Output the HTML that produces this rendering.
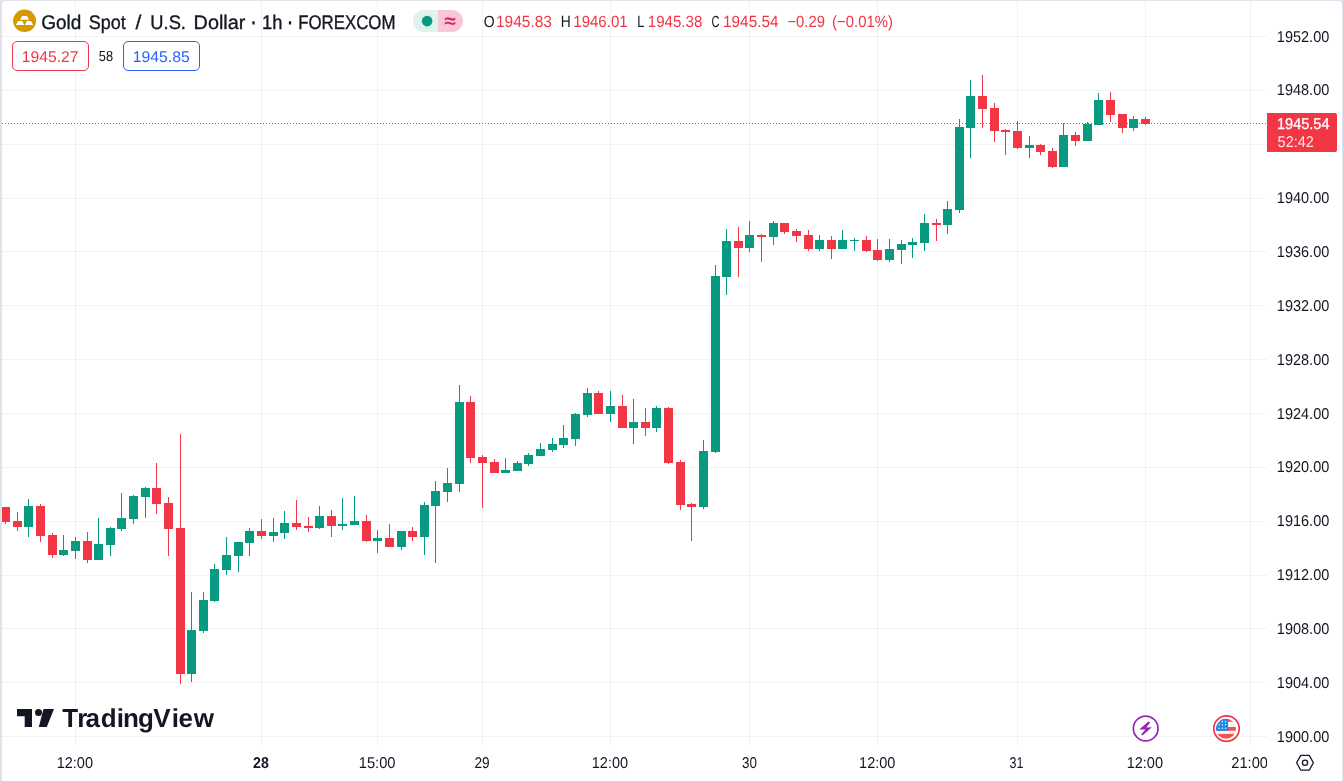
<!DOCTYPE html>
<html lang="en"><head><meta charset="utf-8"><title>Gold Spot / U.S. Dollar chart</title>
<style>
html,body{margin:0;padding:0;}
body{width:1343px;height:781px;overflow:hidden;background:#e0e3eb;position:relative;font-family:"Liberation Sans",sans-serif;}
#panel{position:absolute;left:2px;top:1px;width:1340px;height:790px;background:#fff;border-radius:4px 4px 0 0;}
svg{position:absolute;left:0;top:0;}
svg text{font-family:"Liberation Sans",sans-serif;text-rendering:geometricPrecision;}
</style></head><body>
<div id="panel"></div>
<svg width="1343" height="781" viewBox="0 0 1343 781" shape-rendering="crispEdges">
<rect x="2" y="36" width="1265" height="1" fill="rgba(42,46,57,0.06)"/>
<rect x="2" y="90" width="1265" height="1" fill="rgba(42,46,57,0.06)"/>
<rect x="2" y="144" width="1265" height="1" fill="rgba(42,46,57,0.06)"/>
<rect x="2" y="198" width="1265" height="1" fill="rgba(42,46,57,0.06)"/>
<rect x="2" y="251" width="1265" height="1" fill="rgba(42,46,57,0.06)"/>
<rect x="2" y="305" width="1265" height="1" fill="rgba(42,46,57,0.06)"/>
<rect x="2" y="359" width="1265" height="1" fill="rgba(42,46,57,0.06)"/>
<rect x="2" y="413" width="1265" height="1" fill="rgba(42,46,57,0.06)"/>
<rect x="2" y="467" width="1265" height="1" fill="rgba(42,46,57,0.06)"/>
<rect x="2" y="521" width="1265" height="1" fill="rgba(42,46,57,0.06)"/>
<rect x="2" y="575" width="1265" height="1" fill="rgba(42,46,57,0.06)"/>
<rect x="2" y="628" width="1265" height="1" fill="rgba(42,46,57,0.06)"/>
<rect x="2" y="682" width="1265" height="1" fill="rgba(42,46,57,0.06)"/>
<rect x="2" y="736" width="1265" height="1" fill="rgba(42,46,57,0.06)"/>
<rect x="75" y="1" width="1" height="744" fill="rgba(42,46,57,0.06)"/>
<rect x="261" y="1" width="1" height="744" fill="rgba(42,46,57,0.06)"/>
<rect x="377" y="1" width="1" height="744" fill="rgba(42,46,57,0.06)"/>
<rect x="482" y="1" width="1" height="744" fill="rgba(42,46,57,0.06)"/>
<rect x="610" y="1" width="1" height="744" fill="rgba(42,46,57,0.06)"/>
<rect x="749" y="1" width="1" height="744" fill="rgba(42,46,57,0.06)"/>
<rect x="877" y="1" width="1" height="744" fill="rgba(42,46,57,0.06)"/>
<rect x="1017" y="1" width="1" height="744" fill="rgba(42,46,57,0.06)"/>
<rect x="1145" y="1" width="1" height="744" fill="rgba(42,46,57,0.06)"/>
<rect x="1250" y="1" width="1" height="744" fill="rgba(42,46,57,0.06)"/>
<rect x="5" y="507" width="1" height="17" fill="#f23645"/>
<rect x="2" y="507" width="8" height="15" fill="#f23645"/>
<rect x="17" y="512" width="1" height="19" fill="#f23645"/>
<rect x="13" y="521" width="9" height="6" fill="#f23645"/>
<rect x="28" y="499" width="1" height="38" fill="#089981"/>
<rect x="24" y="506" width="9" height="21" fill="#089981"/>
<rect x="40" y="504" width="1" height="38" fill="#f23645"/>
<rect x="36" y="506" width="9" height="30" fill="#f23645"/>
<rect x="52" y="533" width="1" height="25" fill="#f23645"/>
<rect x="48" y="535" width="9" height="20" fill="#f23645"/>
<rect x="63" y="535" width="1" height="21" fill="#089981"/>
<rect x="59" y="550" width="9" height="5" fill="#089981"/>
<rect x="75" y="537" width="1" height="22" fill="#089981"/>
<rect x="71" y="541" width="9" height="10" fill="#089981"/>
<rect x="87" y="532" width="1" height="31" fill="#f23645"/>
<rect x="83" y="541" width="9" height="19" fill="#f23645"/>
<rect x="98" y="518" width="1" height="42" fill="#089981"/>
<rect x="94" y="544" width="9" height="16" fill="#089981"/>
<rect x="110" y="527" width="1" height="29" fill="#089981"/>
<rect x="106" y="528" width="9" height="17" fill="#089981"/>
<rect x="121" y="493" width="1" height="38" fill="#089981"/>
<rect x="117" y="518" width="9" height="11" fill="#089981"/>
<rect x="133" y="495" width="1" height="29" fill="#089981"/>
<rect x="129" y="496" width="9" height="23" fill="#089981"/>
<rect x="145" y="487" width="1" height="31" fill="#089981"/>
<rect x="141" y="488" width="9" height="9" fill="#089981"/>
<rect x="156" y="463" width="1" height="51" fill="#f23645"/>
<rect x="152" y="488" width="9" height="16" fill="#f23645"/>
<rect x="168" y="497" width="1" height="59" fill="#f23645"/>
<rect x="164" y="503" width="9" height="26" fill="#f23645"/>
<rect x="180" y="434" width="1" height="250" fill="#f23645"/>
<rect x="176" y="528" width="9" height="146" fill="#f23645"/>
<rect x="191" y="592" width="1" height="90" fill="#089981"/>
<rect x="187" y="630" width="9" height="44" fill="#089981"/>
<rect x="203" y="592" width="1" height="41" fill="#089981"/>
<rect x="199" y="600" width="9" height="31" fill="#089981"/>
<rect x="214" y="564" width="1" height="38" fill="#089981"/>
<rect x="210" y="569" width="9" height="32" fill="#089981"/>
<rect x="226" y="537" width="1" height="38" fill="#089981"/>
<rect x="222" y="555" width="9" height="15" fill="#089981"/>
<rect x="238" y="542" width="1" height="30" fill="#089981"/>
<rect x="234" y="542" width="9" height="14" fill="#089981"/>
<rect x="249" y="528" width="1" height="28" fill="#089981"/>
<rect x="245" y="531" width="9" height="12" fill="#089981"/>
<rect x="261" y="519" width="1" height="20" fill="#f23645"/>
<rect x="257" y="531" width="9" height="5" fill="#f23645"/>
<rect x="273" y="518" width="1" height="24" fill="#089981"/>
<rect x="269" y="532" width="9" height="4" fill="#089981"/>
<rect x="284" y="511" width="1" height="28" fill="#089981"/>
<rect x="280" y="523" width="9" height="10" fill="#089981"/>
<rect x="296" y="500" width="1" height="30" fill="#f23645"/>
<rect x="292" y="523" width="9" height="4" fill="#f23645"/>
<rect x="308" y="517" width="1" height="15" fill="#f23645"/>
<rect x="304" y="526" width="9" height="2" fill="#f23645"/>
<rect x="319" y="506" width="1" height="23" fill="#089981"/>
<rect x="315" y="516" width="9" height="12" fill="#089981"/>
<rect x="331" y="510" width="1" height="27" fill="#f23645"/>
<rect x="327" y="516" width="9" height="10" fill="#f23645"/>
<rect x="342" y="498" width="1" height="32" fill="#089981"/>
<rect x="338" y="524" width="9" height="2" fill="#089981"/>
<rect x="354" y="496" width="1" height="29" fill="#089981"/>
<rect x="350" y="521" width="9" height="4" fill="#089981"/>
<rect x="366" y="515" width="1" height="27" fill="#f23645"/>
<rect x="362" y="521" width="9" height="20" fill="#f23645"/>
<rect x="377" y="530" width="1" height="23" fill="#089981"/>
<rect x="373" y="538" width="9" height="3" fill="#089981"/>
<rect x="389" y="524" width="1" height="23" fill="#f23645"/>
<rect x="385" y="538" width="9" height="9" fill="#f23645"/>
<rect x="401" y="531" width="1" height="19" fill="#089981"/>
<rect x="397" y="531" width="9" height="16" fill="#089981"/>
<rect x="412" y="527" width="1" height="14" fill="#f23645"/>
<rect x="408" y="531" width="9" height="6" fill="#f23645"/>
<rect x="424" y="502" width="1" height="53" fill="#089981"/>
<rect x="420" y="505" width="9" height="32" fill="#089981"/>
<rect x="435" y="481" width="1" height="82" fill="#089981"/>
<rect x="431" y="491" width="9" height="15" fill="#089981"/>
<rect x="447" y="468" width="1" height="34" fill="#089981"/>
<rect x="443" y="483" width="9" height="9" fill="#089981"/>
<rect x="459" y="385" width="1" height="107" fill="#089981"/>
<rect x="455" y="402" width="9" height="82" fill="#089981"/>
<rect x="470" y="396" width="1" height="67" fill="#f23645"/>
<rect x="466" y="402" width="9" height="56" fill="#f23645"/>
<rect x="482" y="455" width="1" height="53" fill="#f23645"/>
<rect x="478" y="457" width="9" height="6" fill="#f23645"/>
<rect x="494" y="459" width="1" height="14" fill="#f23645"/>
<rect x="490" y="462" width="9" height="11" fill="#f23645"/>
<rect x="505" y="458" width="1" height="15" fill="#089981"/>
<rect x="501" y="470" width="9" height="3" fill="#089981"/>
<rect x="517" y="461" width="1" height="10" fill="#089981"/>
<rect x="513" y="463" width="9" height="8" fill="#089981"/>
<rect x="528" y="453" width="1" height="13" fill="#089981"/>
<rect x="524" y="455" width="9" height="9" fill="#089981"/>
<rect x="540" y="443" width="1" height="13" fill="#089981"/>
<rect x="536" y="449" width="9" height="7" fill="#089981"/>
<rect x="552" y="438" width="1" height="14" fill="#089981"/>
<rect x="548" y="444" width="9" height="6" fill="#089981"/>
<rect x="563" y="425" width="1" height="23" fill="#089981"/>
<rect x="559" y="438" width="9" height="7" fill="#089981"/>
<rect x="575" y="413" width="1" height="33" fill="#089981"/>
<rect x="571" y="414" width="9" height="25" fill="#089981"/>
<rect x="587" y="388" width="1" height="29" fill="#089981"/>
<rect x="583" y="393" width="9" height="22" fill="#089981"/>
<rect x="598" y="391" width="1" height="23" fill="#f23645"/>
<rect x="594" y="393" width="9" height="21" fill="#f23645"/>
<rect x="610" y="391" width="1" height="31" fill="#089981"/>
<rect x="606" y="406" width="9" height="8" fill="#089981"/>
<rect x="622" y="395" width="1" height="33" fill="#f23645"/>
<rect x="618" y="406" width="9" height="22" fill="#f23645"/>
<rect x="633" y="399" width="1" height="45" fill="#089981"/>
<rect x="629" y="422" width="9" height="6" fill="#089981"/>
<rect x="645" y="408" width="1" height="28" fill="#f23645"/>
<rect x="641" y="422" width="9" height="6" fill="#f23645"/>
<rect x="656" y="406" width="1" height="26" fill="#089981"/>
<rect x="652" y="408" width="9" height="20" fill="#089981"/>
<rect x="668" y="407" width="1" height="57" fill="#f23645"/>
<rect x="664" y="408" width="9" height="55" fill="#f23645"/>
<rect x="680" y="460" width="1" height="50" fill="#f23645"/>
<rect x="676" y="462" width="9" height="43" fill="#f23645"/>
<rect x="691" y="503" width="1" height="38" fill="#f23645"/>
<rect x="687" y="504" width="9" height="3" fill="#f23645"/>
<rect x="703" y="440" width="1" height="69" fill="#089981"/>
<rect x="699" y="451" width="9" height="56" fill="#089981"/>
<rect x="715" y="265" width="1" height="188" fill="#089981"/>
<rect x="711" y="276" width="9" height="176" fill="#089981"/>
<rect x="726" y="229" width="1" height="66" fill="#089981"/>
<rect x="722" y="241" width="9" height="36" fill="#089981"/>
<rect x="738" y="227" width="1" height="50" fill="#f23645"/>
<rect x="734" y="241" width="9" height="7" fill="#f23645"/>
<rect x="749" y="221" width="1" height="31" fill="#089981"/>
<rect x="745" y="235" width="9" height="13" fill="#089981"/>
<rect x="761" y="234" width="1" height="28" fill="#f23645"/>
<rect x="757" y="235" width="9" height="2" fill="#f23645"/>
<rect x="773" y="221" width="1" height="24" fill="#089981"/>
<rect x="769" y="223" width="9" height="14" fill="#089981"/>
<rect x="784" y="223" width="1" height="11" fill="#f23645"/>
<rect x="780" y="223" width="9" height="9" fill="#f23645"/>
<rect x="796" y="229" width="1" height="13" fill="#f23645"/>
<rect x="792" y="231" width="9" height="5" fill="#f23645"/>
<rect x="808" y="230" width="1" height="21" fill="#f23645"/>
<rect x="804" y="235" width="9" height="14" fill="#f23645"/>
<rect x="819" y="235" width="1" height="16" fill="#089981"/>
<rect x="815" y="240" width="9" height="9" fill="#089981"/>
<rect x="831" y="236" width="1" height="23" fill="#f23645"/>
<rect x="827" y="240" width="9" height="9" fill="#f23645"/>
<rect x="842" y="230" width="1" height="19" fill="#089981"/>
<rect x="838" y="240" width="9" height="9" fill="#089981"/>
<rect x="854" y="238" width="1" height="13" fill="#089981"/>
<rect x="850" y="240" width="9" height="1" fill="#089981"/>
<rect x="866" y="236" width="1" height="16" fill="#f23645"/>
<rect x="862" y="240" width="9" height="11" fill="#f23645"/>
<rect x="877" y="239" width="1" height="22" fill="#f23645"/>
<rect x="873" y="250" width="9" height="10" fill="#f23645"/>
<rect x="889" y="239" width="1" height="23" fill="#089981"/>
<rect x="885" y="249" width="9" height="11" fill="#089981"/>
<rect x="901" y="240" width="1" height="24" fill="#089981"/>
<rect x="897" y="244" width="9" height="6" fill="#089981"/>
<rect x="912" y="238" width="1" height="20" fill="#089981"/>
<rect x="908" y="242" width="9" height="3" fill="#089981"/>
<rect x="924" y="214" width="1" height="37" fill="#089981"/>
<rect x="920" y="223" width="9" height="20" fill="#089981"/>
<rect x="936" y="219" width="1" height="22" fill="#f23645"/>
<rect x="932" y="223" width="9" height="2" fill="#f23645"/>
<rect x="947" y="201" width="1" height="33" fill="#089981"/>
<rect x="943" y="209" width="9" height="16" fill="#089981"/>
<rect x="959" y="119" width="1" height="94" fill="#089981"/>
<rect x="955" y="127" width="9" height="83" fill="#089981"/>
<rect x="970" y="80" width="1" height="78" fill="#089981"/>
<rect x="966" y="96" width="9" height="32" fill="#089981"/>
<rect x="982" y="75" width="1" height="53" fill="#f23645"/>
<rect x="978" y="96" width="9" height="13" fill="#f23645"/>
<rect x="994" y="103" width="1" height="39" fill="#f23645"/>
<rect x="990" y="108" width="9" height="23" fill="#f23645"/>
<rect x="1005" y="129" width="1" height="26" fill="#f23645"/>
<rect x="1001" y="130" width="9" height="2" fill="#f23645"/>
<rect x="1017" y="121" width="1" height="28" fill="#f23645"/>
<rect x="1013" y="131" width="9" height="17" fill="#f23645"/>
<rect x="1029" y="136" width="1" height="22" fill="#089981"/>
<rect x="1025" y="145" width="9" height="3" fill="#089981"/>
<rect x="1040" y="144" width="1" height="11" fill="#f23645"/>
<rect x="1036" y="145" width="9" height="7" fill="#f23645"/>
<rect x="1052" y="148" width="1" height="20" fill="#f23645"/>
<rect x="1048" y="151" width="9" height="16" fill="#f23645"/>
<rect x="1063" y="123" width="1" height="44" fill="#089981"/>
<rect x="1059" y="135" width="9" height="32" fill="#089981"/>
<rect x="1075" y="132" width="1" height="14" fill="#f23645"/>
<rect x="1071" y="135" width="9" height="6" fill="#f23645"/>
<rect x="1087" y="122" width="1" height="19" fill="#089981"/>
<rect x="1083" y="124" width="9" height="17" fill="#089981"/>
<rect x="1098" y="93" width="1" height="32" fill="#089981"/>
<rect x="1094" y="100" width="9" height="25" fill="#089981"/>
<rect x="1110" y="92" width="1" height="30" fill="#f23645"/>
<rect x="1106" y="100" width="9" height="15" fill="#f23645"/>
<rect x="1122" y="114" width="1" height="19" fill="#f23645"/>
<rect x="1118" y="114" width="9" height="14" fill="#f23645"/>
<rect x="1133" y="116" width="1" height="15" fill="#089981"/>
<rect x="1129" y="119" width="9" height="9" fill="#089981"/>
<rect x="1145" y="117" width="1" height="8" fill="#f23645"/>
<rect x="1141" y="119" width="9" height="5" fill="#f23645"/>
<line x1="2" y1="123.5" x2="1267" y2="123.5" stroke="#f23645" stroke-width="1" stroke-dasharray="1 2"/>
</svg>
<svg width="1343" height="781" viewBox="0 0 1343 781">
<defs><clipPath id="fclip"><circle cx="1226" cy="728.7" r="10"/></clipPath><clipPath id="tclip"><rect x="0" y="745" width="1267" height="36"/></clipPath></defs>
<!-- gold icon -->
<ellipse cx="24.55" cy="20.85" rx="11.5" ry="11.25" fill="#d69a00"/>
<path d="M22.3 15.9H26.9L29.1 19.7H20.0Z M18.2 21.1H22.3L24.2 24.9H15.8Z M26.9 21.1H30.9L33.3 24.9H24.9Z" fill="#fff"/>
<!-- pill -->
<path d="M424 10h14v22h-14a11 11 0 0 1 0-22z" fill="#dff2ee"/>
<path d="M438 10h14a11 11 0 0 1 0 22h-14z" fill="#f9c7d8"/>
<circle cx="427.1" cy="21.1" r="5.3" fill="#089981"/>
<!-- bid ask boxes -->
<rect x="12.5" y="41.5" width="76" height="29" rx="4.5" fill="#fff" stroke="#f23645"/>
<rect x="123.5" y="41.5" width="76" height="29" rx="4.5" fill="#fff" stroke="#2962ff"/>
<!-- last price box -->
<path d="M1267 113h68a2 2 0 0 1 2 2v35a2 2 0 0 1-2 2h-68z" fill="#f23645"/>
<!-- TV logo mark -->
<path d="M17 709h15v18h-7.3v-10.8h-7.7z M43.5 709h10.5l-7.2 18h-8z" fill="#131722"/>
<circle cx="38.5" cy="712.4" r="3.5" fill="#131722"/>
<!-- lightning icon -->
<rect x="1133" y="713.4" width="25.5" height="29.9" fill="#fff"/>
<circle cx="1145.7" cy="728.5" r="12.35" fill="#fff" stroke="#9526b1" stroke-width="1.7"/>
<path d="M1148.5 721.5L1150.1 722.4L1146.3 727.5L1151.9 727.2L1142.4 735.6L1141.1 734.5L1145.4 729.4L1139.2 729.6Z" fill="#9526b1"/>
<!-- flag icon -->
<rect x="1213.6" y="714" width="25.8" height="29.3" fill="#fff"/>
<circle cx="1226.5" cy="728.6" r="12.75" fill="#fff" stroke="#f23645" stroke-width="1.7"/>
<g clip-path="url(#fclip)">
<rect x="1216" y="718.7" width="20" height="20" fill="#f5f7fa"/>
<rect x="1216" y="718.7" width="20" height="3.1" fill="#ef5350"/>
<rect x="1216" y="727" width="20" height="3.8" fill="#ef5350"/>
<rect x="1216" y="733.9" width="20" height="5" fill="#ef5350"/>
<rect x="1216" y="718.7" width="12.1" height="12.1" fill="#1e88e5"/>
<g fill="#e3f0fc">
<circle cx="1219.1" cy="721.6" r="0.8"/><circle cx="1222.3" cy="721.6" r="0.8"/><circle cx="1225.6" cy="721.6" r="0.8"/>
<circle cx="1219.1" cy="724.8" r="0.8"/><circle cx="1222.3" cy="724.8" r="0.8"/><circle cx="1225.6" cy="724.8" r="0.8"/>
<circle cx="1219.1" cy="728.2" r="0.8"/><circle cx="1222.3" cy="728.2" r="0.8"/><circle cx="1225.6" cy="728.2" r="0.8"/>
</g>
</g>
<!-- settings hex -->
<path d="M1296.6 762.8l4.2-7.4h8.4l4.2 7.4-4.2 7.4h-8.4z" fill="none" stroke="#131722" stroke-width="1.3" stroke-linejoin="round"/>
<circle cx="1305" cy="762.8" r="2.6" fill="none" stroke="#131722" stroke-width="1.3"/>

<text x="41.20" y="28.80" font-size="19.6" font-weight="400" fill="#131722" textLength="40.07" lengthAdjust="spacingAndGlyphs" stroke="#131722" stroke-width="0.35">Gold</text>
<text x="88.80" y="28.80" font-size="19.6" font-weight="400" fill="#131722" textLength="36.99" lengthAdjust="spacingAndGlyphs" stroke="#131722" stroke-width="0.35">Spot</text>
<text x="135.50" y="28.80" font-size="19.6" font-weight="400" fill="#131722" textLength="5.81" lengthAdjust="spacingAndGlyphs" stroke="#131722" stroke-width="0.35">/</text>
<text x="150.37" y="28.80" font-size="19.6" font-weight="400" fill="#131722" textLength="35.58" lengthAdjust="spacingAndGlyphs" stroke="#131722" stroke-width="0.35">U.S.</text>
<text x="193.59" y="28.80" font-size="19.6" font-weight="400" fill="#131722" textLength="51.73" lengthAdjust="spacingAndGlyphs" stroke="#131722" stroke-width="0.35">Dollar</text>
<text x="249.50" y="30.50" font-size="30" font-weight="400" fill="#131722" textLength="7.99" lengthAdjust="spacingAndGlyphs">·</text>
<text x="262.07" y="28.80" font-size="19.6" font-weight="400" fill="#131722" textLength="20.37" lengthAdjust="spacingAndGlyphs" stroke="#131722" stroke-width="0.35">1h</text>
<text x="286.10" y="30.50" font-size="30" font-weight="400" fill="#131722" textLength="7.99" lengthAdjust="spacingAndGlyphs">·</text>
<text x="298.14" y="28.80" font-size="19.6" font-weight="400" fill="#131722" textLength="97.30" lengthAdjust="spacingAndGlyphs" stroke="#131722" stroke-width="0.35">FOREXCOM</text>
<text x="444.50" y="28.05" font-size="21" font-weight="400" fill="#d81b60" textLength="11.11" lengthAdjust="spacingAndGlyphs" stroke="#d81b60" stroke-width="0.5">≈</text>
<text x="483.80" y="27.20" font-size="16.3" font-weight="400" fill="#131722" textLength="10.87" lengthAdjust="spacingAndGlyphs">O</text>
<text x="495.95" y="27.20" font-size="16.3" font-weight="400" fill="#f23645" textLength="56.00" lengthAdjust="spacingAndGlyphs">1945.83</text>
<text x="560.65" y="27.20" font-size="16.3" font-weight="400" fill="#131722" textLength="9.99" lengthAdjust="spacingAndGlyphs">H</text>
<text x="573.28" y="27.20" font-size="16.3" font-weight="400" fill="#f23645" textLength="54.37" lengthAdjust="spacingAndGlyphs">1946.01</text>
<text x="637.23" y="27.20" font-size="16.3" font-weight="400" fill="#131722" textLength="7.02" lengthAdjust="spacingAndGlyphs">L</text>
<text x="647.77" y="27.20" font-size="16.3" font-weight="400" fill="#f23645" textLength="54.58" lengthAdjust="spacingAndGlyphs">1945.38</text>
<text x="711.40" y="27.20" font-size="16.3" font-weight="400" fill="#131722" textLength="7.94" lengthAdjust="spacingAndGlyphs">C</text>
<text x="723.06" y="27.20" font-size="16.3" font-weight="400" fill="#f23645" textLength="55.49" lengthAdjust="spacingAndGlyphs">1945.54</text>
<text x="787.40" y="27.20" font-size="16.3" font-weight="400" fill="#f23645" textLength="37.55" lengthAdjust="spacingAndGlyphs">−0.29</text>
<text x="832.09" y="27.20" font-size="16.3" font-weight="400" fill="#f23645" textLength="60.80" lengthAdjust="spacingAndGlyphs">(−0.01%)</text>
<text x="21.89" y="61.90" font-size="15.5" font-weight="400" fill="#f23645" textLength="56.54" lengthAdjust="spacingAndGlyphs">1945.27</text>
<text x="98.80" y="61.20" font-size="14.5" font-weight="400" fill="#131722" textLength="14.26" lengthAdjust="spacingAndGlyphs">58</text>
<text x="132.78" y="61.90" font-size="15.5" font-weight="400" fill="#2962ff" textLength="57.05" lengthAdjust="spacingAndGlyphs">1945.85</text>
<text x="1276.87" y="41.60" font-size="15.6" font-weight="400" fill="#131722" textLength="52.43" lengthAdjust="spacingAndGlyphs">1952.00</text>
<text x="1276.87" y="94.60" font-size="15.6" font-weight="400" fill="#131722" textLength="52.43" lengthAdjust="spacingAndGlyphs">1948.00</text>
<text x="1276.87" y="202.60" font-size="15.6" font-weight="400" fill="#131722" textLength="52.43" lengthAdjust="spacingAndGlyphs">1940.00</text>
<text x="1276.87" y="256.60" font-size="15.6" font-weight="400" fill="#131722" textLength="52.43" lengthAdjust="spacingAndGlyphs">1936.00</text>
<text x="1276.87" y="310.60" font-size="15.6" font-weight="400" fill="#131722" textLength="52.43" lengthAdjust="spacingAndGlyphs">1932.00</text>
<text x="1276.87" y="364.60" font-size="15.6" font-weight="400" fill="#131722" textLength="52.43" lengthAdjust="spacingAndGlyphs">1928.00</text>
<text x="1276.87" y="418.60" font-size="15.6" font-weight="400" fill="#131722" textLength="52.43" lengthAdjust="spacingAndGlyphs">1924.00</text>
<text x="1276.87" y="471.60" font-size="15.6" font-weight="400" fill="#131722" textLength="52.43" lengthAdjust="spacingAndGlyphs">1920.00</text>
<text x="1276.87" y="525.60" font-size="15.6" font-weight="400" fill="#131722" textLength="52.43" lengthAdjust="spacingAndGlyphs">1916.00</text>
<text x="1276.87" y="579.60" font-size="15.6" font-weight="400" fill="#131722" textLength="52.43" lengthAdjust="spacingAndGlyphs">1912.00</text>
<text x="1276.87" y="633.60" font-size="15.6" font-weight="400" fill="#131722" textLength="52.43" lengthAdjust="spacingAndGlyphs">1908.00</text>
<text x="1276.87" y="687.60" font-size="15.6" font-weight="400" fill="#131722" textLength="52.43" lengthAdjust="spacingAndGlyphs">1904.00</text>
<text x="1276.87" y="741.60" font-size="15.6" font-weight="400" fill="#131722" textLength="52.43" lengthAdjust="spacingAndGlyphs">1900.00</text>
<text x="1276.97" y="128.75" font-size="15.6" font-weight="400" fill="#ffffff" textLength="52.53" lengthAdjust="spacingAndGlyphs" stroke="#fff" stroke-width="0.3">1945.54</text>
<text x="1277.60" y="146.90" font-size="15.6" font-weight="400" fill="rgba(255,255,255,0.85)" textLength="36.33" lengthAdjust="spacingAndGlyphs">52:42</text>
<text x="56.72" y="767.90" font-size="15.6" font-weight="400" fill="#131722" textLength="36.28" lengthAdjust="spacingAndGlyphs">12:00</text>
<text x="253.00" y="767.90" font-size="15.6" font-weight="700" fill="#131722" textLength="15.80" lengthAdjust="spacingAndGlyphs">28</text>
<text x="358.76" y="767.90" font-size="15.6" font-weight="400" fill="#131722" textLength="36.73" lengthAdjust="spacingAndGlyphs">15:00</text>
<text x="474.40" y="767.90" font-size="15.6" font-weight="400" fill="#131722" textLength="15.19" lengthAdjust="spacingAndGlyphs">29</text>
<text x="591.77" y="767.90" font-size="15.6" font-weight="400" fill="#131722" textLength="36.33" lengthAdjust="spacingAndGlyphs">12:00</text>
<text x="742.00" y="767.90" font-size="15.6" font-weight="400" fill="#131722" textLength="14.92" lengthAdjust="spacingAndGlyphs">30</text>
<text x="859.07" y="767.90" font-size="15.6" font-weight="400" fill="#131722" textLength="36.33" lengthAdjust="spacingAndGlyphs">12:00</text>
<text x="1009.50" y="767.90" font-size="15.6" font-weight="400" fill="#131722" textLength="13.94" lengthAdjust="spacingAndGlyphs">31</text>
<text x="1126.67" y="767.90" font-size="15.6" font-weight="400" fill="#131722" textLength="36.33" lengthAdjust="spacingAndGlyphs">12:00</text>
<text x="1231.30" y="767.90" font-size="15.6" font-weight="400" fill="#131722" textLength="36.69" lengthAdjust="spacingAndGlyphs" clip-path="url(#tclip)">21:00</text>
<text x="62.20 77.15 85.40 100.80 116.70 123.10 138.00 153.35 171.75 178.50 193.65" y="726.8" font-size="26" font-weight="700" fill="#131722">TradingView</text>
</svg>
</body></html>
